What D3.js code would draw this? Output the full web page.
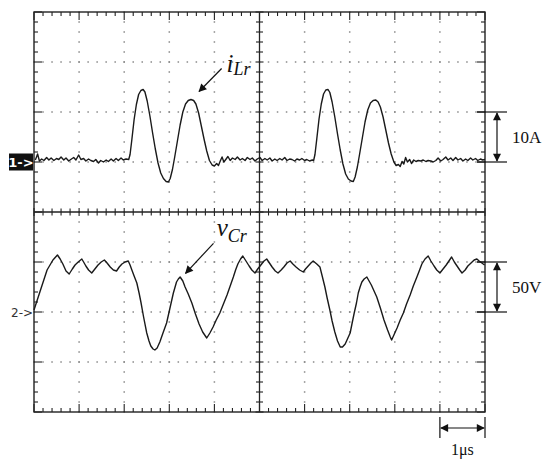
<!DOCTYPE html>
<html>
<head>
<meta charset="utf-8">
<script src="https://cdn.jsdelivr.net/npm/d3@7"></script>
<style>
  body { margin: 0; background: #fff; }
  svg { display: block; }
</style>
</head>
<body>
<svg id="scope" width="550" height="466"></svg>
<script>
// time in µs, 1 µs per division, 10 divisions
var timeDivs = [0, 1, 2, 3, 4, 5, 6, 7, 8, 9, 10];
var vertDivs = [0, 1, 2, 3, 4, 5, 6, 7, 8];

// channel 1: resonant inductor current iLr [µs, A]
var iLr = [
  [0.03,0.4],[0.08,1.6],[0.12,0.2],[0.17,0.6],[0.22,0.3],[0.28,0.9],[0.33,0.4],[0.38,0.8],[0.44,0.3],[0.5,0.7],
  [0.55,0.5],[0.6,1.0],[0.66,0.4],[0.71,0.8],[0.77,0.2],[0.83,0.6],[0.88,0.9],[0.93,0.4],[0.99,1.4],[1.04,0.5],
  [1.1,0.7],[1.15,0.2],[1.21,0.6],[1.26,0.3],[1.32,0.1],[1.37,0.5],[1.43,-0.2],[1.48,0.3],[1.54,0.0],[1.6,0.4],
  [1.65,0.1],[1.71,0.6],[1.76,0.2],[1.82,0.7],[1.87,0.3],[1.93,0.8],[1.98,0.4],[2.04,0.6],[2.1,0.5],
  [2.13,1.5],[2.17,4.5],[2.22,8.5],[2.27,11.5],[2.32,13.5],[2.37,14.3],[2.42,14.5],[2.46,14.0],[2.51,12.2],
  [2.57,9.2],[2.63,5.8],[2.69,2.6],[2.75,-0.2],[2.81,-2.2],[2.87,-3.3],[2.93,-3.9],[2.98,-4.0],[3.02,-3.3],
  [3.07,-1.5],[3.12,1.0],[3.18,4.2],[3.24,7.4],[3.30,10.0],[3.36,11.6],[3.42,12.3],[3.48,12.5],[3.54,12.3],
  [3.59,11.6],[3.65,9.8],[3.71,7.2],[3.77,4.6],[3.83,2.2],[3.89,0.3],[3.95,-0.6],[4.0,-0.8],[4.05,-0.3],
  [4.09,-0.7],[4.13,0.2],[4.17,1.0],[4.21,0.0],[4.26,0.6],[4.3,1.1],
  [4.35,0.3],[4.4,0.8],[4.46,0.5],[4.51,1.0],[4.57,0.4],[4.62,0.7],[4.68,0.3],[4.73,0.9],[4.79,0.5],[4.84,0.8],
  [4.9,0.2],[4.95,0.6],[5.01,0.9],[5.06,0.3],[5.12,0.7],[5.17,0.4],[5.23,0.8],[5.28,0.2],[5.34,0.6],[5.39,0.3],
  [5.45,0.7],[5.5,0.4],[5.56,0.9],[5.61,0.3],[5.67,0.6],[5.72,0.5],[5.78,0.2],[5.83,0.6],[5.89,0.4],[5.94,0.7],
  [6.0,0.3],[6.05,0.5],[6.11,0.2],[6.17,0.4],[6.2,0.3],
  [6.23,1.5],[6.27,4.6],[6.32,8.6],[6.37,11.6],[6.42,13.6],[6.47,14.4],[6.52,14.5],[6.56,13.9],[6.61,12.0],
  [6.67,9.0],[6.73,5.6],[6.79,2.4],[6.85,-0.4],[6.91,-2.4],[6.97,-3.4],[7.03,-3.8],[7.08,-3.9],[7.12,-3.0],
  [7.17,-1.0],[7.22,1.6],[7.28,4.8],[7.34,8.0],[7.40,10.4],[7.46,11.8],[7.52,12.3],[7.58,12.4],[7.63,12.0],
  [7.68,11.0],[7.74,9.0],[7.80,6.4],[7.86,3.8],[7.92,1.6],[7.98,0.0],[8.03,-0.7],[8.08,-0.5],[8.12,-0.9],
  [8.16,0.1],[8.2,-0.4],[8.24,0.9],[8.28,0.0],[8.33,0.5],[8.37,-0.3],[8.42,0.4],
  [8.47,0.1],[8.52,0.3],[8.58,0.2],[8.63,0.4],[8.69,0.1],[8.74,0.3],[8.8,0.2],[8.85,0.0],[8.91,0.3],[8.96,0.8],
  [9.02,0.2],[9.07,0.5],[9.13,1.0],[9.18,0.4],[9.24,0.8],[9.29,0.3],[9.35,0.9],[9.4,0.4],[9.46,0.7],[9.51,0.2],
  [9.57,0.6],[9.62,0.3],[9.68,0.8],[9.73,0.4],[9.79,0.7],[9.84,0.3],[9.9,0.6],[9.95,0.4],[10.0,0.5]
];

// channel 2: resonant capacitor voltage vCr [µs, V]
var vCr = [
  [0.0,2],[0.13,20],[0.29,42],[0.42,52],[0.52,57],[0.58,53],[0.64,48],[0.71,41],[0.78,38],[0.85,43],[0.91,47],
  [0.98,50],[1.06,53],[1.1,50],[1.15,46],[1.21,42],[1.28,39],[1.35,43],[1.42,47],[1.49,50],[1.56,52],[1.62,49],
  [1.69,45],[1.76,42],[1.83,41],[1.89,45],[1.95,48],[2.02,50],[2.09,51],[2.13,47],[2.17,42],[2.22,36],[2.28,29],
  [2.33,19],[2.37,10],[2.43,-5],[2.50,-21],[2.55,-29],[2.59,-34],[2.64,-37],[2.68,-38],[2.73,-36],[2.79,-30],
  [2.86,-21],[2.94,-11],[3.01,3],[3.09,19],[3.16,30],[3.2,33],[3.24,35],[3.3,31],[3.35,25],[3.42,18],[3.50,9],
  [3.58,-2],[3.66,-12],[3.74,-20],[3.8,-24],[3.83,-26],[3.9,-21],[3.97,-15],[4.04,-8],[4.12,-1],[4.2,8],
  [4.28,17],[4.35,26],[4.42,35],[4.47,42],[4.52,48],[4.58,53],[4.63,56],[4.7,51],[4.77,46],[4.83,42],[4.90,39],
  [4.96,43],[5.03,47],[5.1,51],[5.16,53],[5.22,49],[5.28,45],[5.35,41],[5.41,39],[5.48,42],[5.54,45],[5.61,49],
  [5.68,51],[5.74,48],[5.81,45],[5.89,42],[5.97,40],[6.02,43],[6.08,46],[6.14,49],[6.19,51],[6.27,48],[6.34,45],
  [6.39,36],[6.45,25],[6.5,14],[6.56,2],[6.61,-9],[6.67,-20],[6.73,-29],[6.79,-35],[6.84,-35],[6.9,-32],
  [6.95,-27],[7.01,-21],[7.05,-12],[7.10,-1],[7.15,9],[7.19,19],[7.23,25],[7.27,30],[7.32,33],[7.38,35],
  [7.43,31],[7.48,27],[7.54,21],[7.60,15],[7.68,4],[7.76,-8],[7.84,-18],[7.9,-25],[7.93,-28],[7.99,-22],
  [8.05,-16],[8.12,-8],[8.19,-1],[8.26,8],[8.34,17],[8.41,26],[8.49,35],[8.55,42],[8.60,48],[8.67,53],[8.74,56],
  [8.8,51],[8.87,46],[8.93,42],[9.00,39],[9.07,43],[9.14,47],[9.2,51],[9.26,55],[9.32,50],[9.38,46],[9.44,42],
  [9.49,39],[9.56,42],[9.62,46],[9.69,49],[9.76,52],[9.82,53],[9.87,51],[9.93,49],[9.99,47]
];

var serif = '"Liberation Serif", "Times New Roman", serif';
var svg = d3.select('#scope');
var pL = 34, pR = 485, pT = 12, pB = 412;

var x = d3.scaleLinear().domain([0, 10]).range([pL, pR]);
var gy = d3.scaleLinear().domain([0, 8]).range([pT, pB]);
var yI = d3.scaleLinear().domain([-50, 30]).range([pB, pT]);   // 10 A/div, ground at div 3
var yV = d3.scaleLinear().domain([-100, 300]).range([pB, pT]); // 50 V/div, ground at div 6

svg.append('rect').attr('width', 550).attr('height', 466).attr('fill', '#fff');

var grid = svg.append('g');

// dotted grid lines (not the center cross)
var minorX = d3.range(0, 10.001, 0.2);
var minorY = d3.range(0, 8.001, 0.2);
vertDivs.filter(d => d > 0 && d < 8 && d != 4).forEach(j => {
    grid.selectAll(null)
        .data(minorX)
        .enter()
        .append('rect')
        .attr('x', d => x(d) - 0.75)
        .attr('y', gy(j) - 0.75)
        .attr('width', 1.5).attr('height', 1.5)
        .attr('fill', '#8a8a8a');
});
timeDivs.filter(d => d > 0 && d < 10 && d != 5).forEach(i => {
    grid.selectAll(null)
        .data(minorY)
        .enter()
        .append('rect')
        .attr('x', x(i) - 0.75)
        .attr('y', d => gy(d) - 0.75)
        .attr('width', 1.5).attr('height', 1.5)
        .attr('fill', '#8a8a8a');
});

// center cross
grid.append('line').attr('x1', x(5)).attr('x2', x(5)).attr('y1', pT).attr('y2', pB)
    .attr('stroke', '#222').attr('stroke-width', 1.3);
grid.append('line').attr('x1', pL).attr('x2', pR).attr('y1', gy(4)).attr('y2', gy(4))
    .attr('stroke', '#222').attr('stroke-width', 1.3);

function isMajor(v) { return Math.abs(v - Math.round(v)) < 0.01; }

// ticks on center cross
grid.selectAll(null).data(minorY).enter().append('line')
    .attr('x1', d => x(5) - (isMajor(d) ? 4 : 3.5)).attr('x2', d => x(5) + (isMajor(d) ? 4 : 3.5))
    .attr('y1', d => gy(d)).attr('y2', d => gy(d))
    .attr('stroke', '#222').attr('stroke-width', 1.1);
grid.selectAll(null).data(minorX).enter().append('line')
    .attr('y1', d => gy(4) - (isMajor(d) ? 4 : 3.5)).attr('y2', d => gy(4) + (isMajor(d) ? 4 : 3.5))
    .attr('x1', d => x(d)).attr('x2', d => x(d))
    .attr('stroke', '#222').attr('stroke-width', 1.1);

// border ticks, pointing inward
grid.selectAll(null).data(minorX).enter().append('line')
    .attr('x1', d => x(d)).attr('x2', d => x(d))
    .attr('y1', pT).attr('y2', d => pT + (isMajor(d) ? 8 : 4))
    .attr('stroke', '#222').attr('stroke-width', 1.1);
grid.selectAll(null).data(minorX).enter().append('line')
    .attr('x1', d => x(d)).attr('x2', d => x(d))
    .attr('y1', pB).attr('y2', d => pB - (isMajor(d) ? 8 : 4))
    .attr('stroke', '#222').attr('stroke-width', 1.1);
grid.selectAll(null).data(minorY).enter().append('line')
    .attr('y1', d => gy(d)).attr('y2', d => gy(d))
    .attr('x1', pL).attr('x2', d => pL + (isMajor(d) ? 8 : 4))
    .attr('stroke', '#222').attr('stroke-width', 1.1);
grid.selectAll(null).data(minorY).enter().append('line')
    .attr('y1', d => gy(d)).attr('y2', d => gy(d))
    .attr('x1', pR).attr('x2', d => pR - (isMajor(d) ? 8 : 4))
    .attr('stroke', '#222').attr('stroke-width', 1.1);

grid.append('rect').attr('x', pL).attr('y', pT)
    .attr('width', pR - pL).attr('height', pB - pT)
    .attr('fill', 'none').attr('stroke', '#222').attr('stroke-width', 1.4);

// traces
svg.append('path')
    .datum(iLr)
    .attr('d', d3.line().x(d => x(d[0])).y(d => yI(d[1])))
    .attr('fill', 'none').attr('stroke', '#1a1a1a').attr('stroke-width', 1.4)
    .attr('stroke-linejoin', 'round');

svg.append('path')
    .datum(vCr)
    .attr('d', d3.line().x(d => x(d[0])).y(d => yV(d[1])))
    .attr('fill', 'none').attr('stroke', '#1a1a1a').attr('stroke-width', 1.4)
    .attr('stroke-linejoin', 'round');

// channel ground markers
svg.append('rect').attr('x', 9).attr('y', yI(0) - 8.5).attr('width', 24).attr('height', 17).attr('fill', '#111');
svg.append('text').attr('x', 21).attr('y', yI(0) + 5)
    .attr('text-anchor', 'middle')
    .attr('font-family', 'DejaVu Sans').attr('font-size', 13).attr('font-weight', 'bold')
    .attr('fill', '#fff').text('1->');
svg.append('text').attr('x', 11).attr('y', yV(0) + 5)
    .attr('font-family', 'DejaVu Sans').attr('font-size', 12)
    .attr('fill', '#333').text('2->');

// arrow markers
var defs = svg.append('defs');
defs.append('marker').attr('id', 'ah').attr('viewBox', '0 0 10 10')
    .attr('refX', 9).attr('refY', 5).attr('markerWidth', 10).attr('markerHeight', 8)
    .attr('markerUnits', 'userSpaceOnUse').attr('orient', 'auto-start-reverse')
    .append('path').attr('d', 'M0,0 L10,5 L0,10 z').attr('fill', '#111');

// trace annotations
svg.append('line')
    .attr('x1', x(4.16)).attr('y1', yI(18.7)).attr('x2', x(3.66)).attr('y2', yI(14.1))
    .attr('stroke', '#111').attr('stroke-width', 1.2).attr('marker-end', 'url(#ah)');
var t1 = svg.append('text').attr('x', x(4.27)).attr('y', yI(18.0))
    .attr('font-family', serif).attr('fill', '#111')
    .attr('font-size', 25).attr('font-style', 'italic');
t1.append('tspan').text('i');
t1.append('tspan').attr('font-size', 18).attr('dy', 3).text('Lr');

svg.append('line')
    .attr('x1', x(3.98)).attr('y1', yV(68.7)).attr('x2', x(3.36)).attr('y2', yV(38.7))
    .attr('stroke', '#111').attr('stroke-width', 1.2).attr('marker-end', 'url(#ah)');
var t2 = svg.append('text').attr('x', x(4.05)).attr('y', yV(76))
    .attr('font-family', serif).attr('fill', '#111')
    .attr('font-size', 25).attr('font-style', 'italic');
t2.append('tspan').text('v');
t2.append('tspan').attr('font-size', 18).attr('dy', 6).text('Cr');

// scale brackets on the right
function vBracket(y0, y1, label) {
    var g = svg.append('g');
    [y0, y1].forEach(yy => {
        g.append('line').attr('x1', pR - 8).attr('x2', pR + 22).attr('y1', yy).attr('y2', yy)
            .attr('stroke', '#111').attr('stroke-width', 1.2);
    });
    g.append('line').attr('x1', pR + 12).attr('x2', pR + 12).attr('y1', y0 + 1).attr('y2', y1 - 1)
        .attr('stroke', '#111').attr('stroke-width', 1.2)
        .attr('marker-start', 'url(#ah)').attr('marker-end', 'url(#ah)');
    g.append('text').attr('x', pR + 27).attr('y', (y0 + y1) / 2 + 6)
        .attr('font-family', serif).attr('fill', '#111')
        .attr('font-size', 17).text(label);
}
vBracket(yI(10), yI(0), '10A');
vBracket(yV(50), yV(0), '50V');

// time scale bracket
var tb = svg.append('g');
[9, 10].forEach(t => {
    tb.append('line').attr('x1', x(t)).attr('x2', x(t)).attr('y1', pB + 5).attr('y2', pB + 26)
        .attr('stroke', '#111').attr('stroke-width', 1.2);
});
tb.append('line').attr('x1', x(9) + 1).attr('x2', x(10) - 1).attr('y1', pB + 16).attr('y2', pB + 16)
    .attr('stroke', '#111').attr('stroke-width', 1.2)
    .attr('marker-start', 'url(#ah)').attr('marker-end', 'url(#ah)');
tb.append('text').attr('x', x(9.5)).attr('y', pB + 43)
    .attr('font-family', serif).attr('fill', '#111')
    .attr('text-anchor', 'middle').attr('font-size', 16).text('1μs');
</script>
</body>
</html>
